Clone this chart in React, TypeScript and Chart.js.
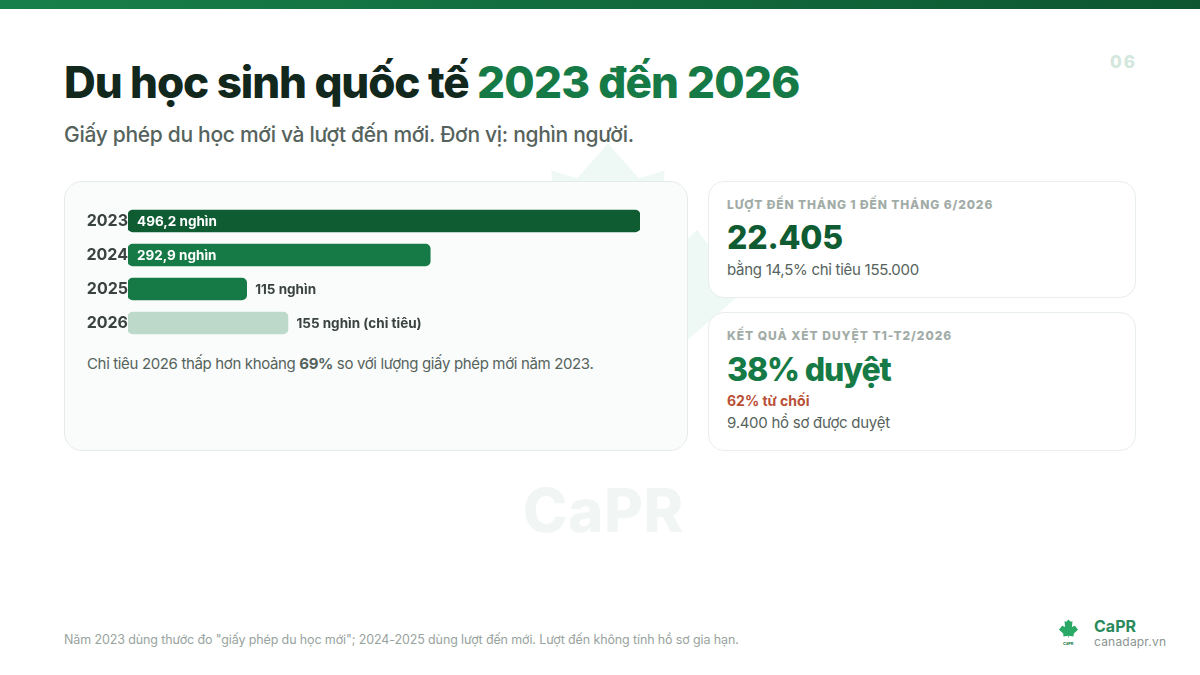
import React, { useEffect, useRef } from "react";
import { Chart, registerables } from "chart.js";

Chart.register(...registerables);

const years = ["2023", "2024", "2025", "2026"];
const values = [496.2, 292.9, 115, 155];
const barLabels = ["496,2 nghìn", "292,9 nghìn", "115 nghìn", "155 nghìn (chỉ tiêu)"];
const labelInside = [true, true, false, false];
const barColors = ["#0f5c33", "#157a45", "#157a45", "#bcd9c9"];

const FONT = "Inter, 'Noto Sans', sans-serif";

const labelPlugin = {
  id: "barText",
  afterDatasetsDraw(chart: any) {
    const ctx = chart.ctx;
    const meta = chart.getDatasetMeta(0);
    ctx.save();
    ctx.font = `700 13.5px ${FONT}`;
    ctx.textBaseline = "middle";
    ctx.textAlign = "left";
    meta.data.forEach((bar: any, i: number) => {
      if (labelInside[i]) {
        ctx.fillStyle = "#ffffff";
        ctx.fillText(barLabels[i], bar.base + 9, bar.y + 1);
      } else {
        ctx.fillStyle = "#3a4340";
        ctx.fillText(barLabels[i], bar.x + 8.5, bar.y + 1);
      }
    });
    ctx.restore();
  },
};

function Leaf({ style, fill }: { style: React.CSSProperties; fill: string }) {
  return (
    <svg viewBox="0 0 100 96" style={style}>
      <path
        fill={fill}
        d="M50 0 L61.5 13 L71 10 L68 40 L80 35 L83 32 L100 55 L78 74 L76 90 L52 86 L52 96 L48 96 L48 86 L24 90 L22 74 L0 55 L17 32 L20 35 L32 40 L29 10 L38.5 13 Z"
      />
    </svg>
  );
}

const abs = (left: number, top: number, extra: React.CSSProperties = {}): React.CSSProperties => ({
  position: "absolute",
  left,
  top,
  whiteSpace: "nowrap",
  lineHeight: 1,
  ...extra,
});

export default function App() {
  const ref = useRef<HTMLCanvasElement>(null);

  useEffect(() => {
    const chart = new Chart(ref.current!, {
      type: "bar",
      data: {
        labels: years,
        datasets: [
          {
            data: values,
            backgroundColor: barColors,
            borderRadius: 5,
            borderSkipped: false,
            barThickness: 22,
          },
        ],
      },
      options: {
        indexAxis: "y",
        animation: false,
        responsive: false,
        maintainAspectRatio: false,
        layout: { padding: { left: 0, right: 48, top: 0, bottom: 0 } },
        plugins: { legend: { display: false }, tooltip: { enabled: false } },
        scales: {
          x: { display: false, min: 0, max: 496.2 },
          y: {
            grid: { display: false, drawTicks: false },
            border: { display: false },
            afterFit(scale: any) {
              scale.width = 64;
              scale.paddingTop = 0;
              scale.paddingBottom = 0;
            },
            ticks: {
              color: "#3a4340",
              padding: 0,
              font: { family: FONT, size: 16, weight: 700 },
            },
          },
        },
      },
      plugins: [labelPlugin],
    } as any);
    return () => chart.destroy();
  }, []);

  return (
    <div
      style={{
        position: "absolute",
        left: 0,
        top: 0,
        width: 1200,
        height: 675,
        background: "#ffffff",
        overflow: "hidden",
        fontFamily: FONT,
      }}
    >
      <div style={{ position: "absolute", left: 0, top: 0, width: 1200, height: 9, background: "linear-gradient(90deg,#17804a,#0d5630)" }} />

      <Leaf fill="#eef8f4" style={{ position: "absolute", left: 473, top: 143, width: 270, height: 260 }} />
      <div style={abs(523, 480, { fontSize: 60, fontWeight: 800, color: "#f1f6f4", letterSpacing: 0.5 })}>CaPR</div>

      <div style={abs(1110, 54, { fontSize: 17, fontWeight: 800, color: "#d3e7dc", letterSpacing: 2 })}>06</div>

      <div style={abs(64, 60, { fontSize: 44, fontWeight: 800, color: "#12281d", letterSpacing: -1.1 })}>
        Du học sinh quốc tế <span style={{ color: "#157a45", letterSpacing: -0.8 }}>2023 đến 2026</span>
      </div>
      <div style={abs(64, 124, { fontSize: 21, fontWeight: 500, color: "#56635d", letterSpacing: -0.3 })}>
        Giấy phép du học mới và lượt đến mới. Đơn vị: nghìn người.
      </div>

      {/* Chart card */}
      <div
        style={{
          position: "absolute",
          left: 64,
          top: 181,
          width: 624,
          height: 270,
          boxSizing: "border-box",
          background: "#fafcfb",
          border: "1px solid #e5ebe8",
          borderRadius: 18,
        }}
      />
      <canvas ref={ref} width={624} height={136} style={{ position: "absolute", left: 64, top: 204, width: 624, height: 136 }} />
      <div style={abs(87, 356, { fontSize: 15, fontWeight: 400, color: "#56635d", letterSpacing: -0.35 })}>
        Chỉ tiêu 2026 thấp hơn khoảng <b style={{ fontWeight: 700 }}>69%</b> so với lượng giấy phép mới năm 2023.
      </div>

      {/* Right card 1 */}
      <div
        style={{
          position: "absolute",
          left: 708,
          top: 181,
          width: 428,
          height: 117,
          boxSizing: "border-box",
          background: "#ffffff",
          border: "1px solid #e8eeeb",
          borderRadius: 16,
        }}
      />
      <div style={abs(727, 199, { fontSize: 12, fontWeight: 800, color: "#a2aca7", letterSpacing: 0.87 })}>
        LƯỢT ĐẾN THÁNG 1 ĐẾN THÁNG 6/2026
      </div>
      <div style={abs(727, 222, { fontSize: 32, fontWeight: 800, color: "#0f5c33", letterSpacing: -0.2 })}>22.405</div>
      <div style={abs(727, 262, { fontSize: 15, color: "#56635d", letterSpacing: -0.28 })}>bằng 14,5% chỉ tiêu 155.000</div>

      {/* Right card 2 */}
      <div
        style={{
          position: "absolute",
          left: 708,
          top: 312,
          width: 428,
          height: 139,
          boxSizing: "border-box",
          background: "#ffffff",
          border: "1px solid #e8eeeb",
          borderRadius: 16,
        }}
      />
      <div style={abs(727, 330, { fontSize: 12, fontWeight: 800, color: "#a2aca7", letterSpacing: 0.95 })}>
        KẾT QUẢ XÉT DUYỆT T1-T2/2026
      </div>
      <div style={abs(727, 354, { fontSize: 32, fontWeight: 800, color: "#157a45", letterSpacing: -1.1 })}>38% duyệt</div>
      <div style={abs(727, 394, { fontSize: 14, fontWeight: 700, color: "#b94f35" })}>62% từ chối</div>
      <div style={abs(727, 415, { fontSize: 15, color: "#56635d", letterSpacing: -0.27 })}>9.400 hồ sơ được duyệt</div>

      <div style={abs(64, 634, { fontSize: 12.5, color: "#98a39e", letterSpacing: -0.12 })}>
        Năm 2023 dùng thước đo "giấy phép du học mới"; 2024-2025 dùng lượt đến mới. Lượt đến không tính hồ sơ gia hạn.
      </div>

      <Leaf fill="#2aa865" style={{ position: "absolute", left: 1059, top: 619, width: 19, height: 19 }} />
      <div style={abs(1063, 642, { fontSize: 4, fontWeight: 700, color: "#157a45" })}>CaPR</div>
      <div style={abs(1094, 618, { fontSize: 16, fontWeight: 700, color: "#2a8a5b" })}>CaPR</div>
      <div style={abs(1094, 636, { fontSize: 12, color: "#8a9490", letterSpacing: 0.2 })}>canadapr.vn</div>
    </div>
  );
}
